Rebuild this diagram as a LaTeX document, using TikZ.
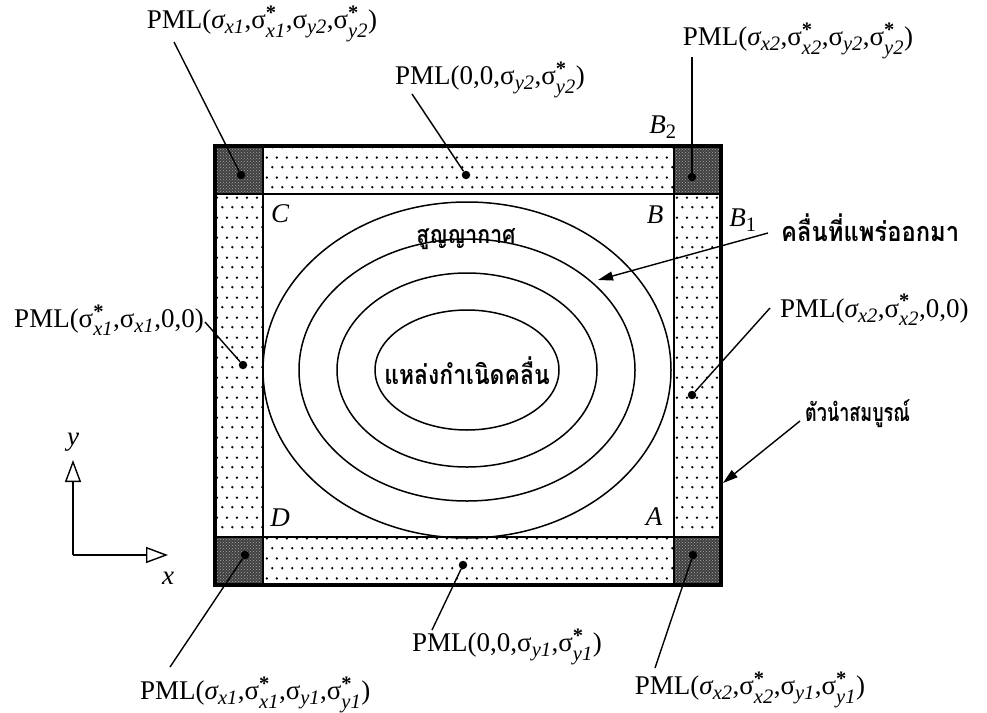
\documentclass[tikz,border=0pt]{standalone}
\usepackage{amsmath}
\usepackage{graphicx}
\usepackage{fontspec}
\setmainfont{Liberation Serif}
\newfontfamily\thaifont[Script=Thai]{Loma}
\DeclareMathSizes{27}{27}{20.5}{15}
\usetikzlibrary{arrows.meta,patterns,patterns.meta}
\tikzdeclarepattern{
  name=pmldots,
  type=uncolored,
  bounding box={(0pt,0pt) and (10pt,20pt)},
  tile size={(10pt,20pt)},
  code={
    \fill (2.5pt,5pt) circle (1.4pt);
    \fill (7.5pt,15pt) circle (1.4pt);
  }
}
\newcommand{\sgi}[1]{\ensuremath{\text{\itshape σ}_{\text{\itshape #1}}}}
\newcommand{\sgu}[1]{\ensuremath{\text{σ}_{\text{\itshape #1}}}}
\newcommand{\sgs}[1]{\ensuremath{\text{σ}^{\text{\bfseries *}}_{\text{\itshape #1}}}}
\newcommand{\thx}[3]{{\fontsize{#1}{#1}\selectfont\thaifont\bfseries\scalebox{#2}[1]{#3}}}
\begin{document}
\begin{tikzpicture}[x=1pt,y=-1pt,
  lbl/.style={inner sep=0pt, font=\fontsize{27}{31}\selectfont},
  thai/.style={inner sep=0pt},
  cornerlbl/.style={inner sep=0pt, font=\fontsize{27}{31}\selectfont\itshape},
  pmldot/.style={circle, fill=black, inner sep=0pt, minimum size=8.5pt},
  leader/.style={line width=1.4pt},
  strip/.style={pattern=pmldots, pattern color=black},
  cornertile/.style={fill=black!75},
  tileedge/.style={draw=black, line width=2pt},
  wave/.style={line width=1.5pt},
  axis/.style={line width=1.4pt, -{Triangle[open, length=22pt, width=16pt, line width=1.4pt]}},
  pointer/.style={line width=1.4pt, -{Triangle[length=15pt, width=9pt]}}]
\useasboundingbox (0,0) rectangle (987,712);
\fill[white] (0,0) rectangle (987,712);

% wavefronts
\draw[wave] (467,370) ellipse [x radius=204, y radius=168];
\draw[wave] (467,370) ellipse [x radius=168, y radius=131];
\draw[wave] (467,370) ellipse [x radius=130, y radius=97];
\draw[wave] (467,370) ellipse [x radius=92, y radius=60];

% PML strips
\path[strip] (263,146) rectangle (674,194);
\path[strip] (263,537) rectangle (674,585);
\path[strip] (215,194) rectangle (263,537);
\path[strip] (674,194) rectangle (721,537);
% corner tiles
\path[cornertile] (215,146) rectangle (263,194);
\path[cornertile] (674,146) rectangle (721,194);
\path[cornertile] (215,537) rectangle (263,585);
\path[cornertile] (674,537) rectangle (721,585);
\path[pattern=crosshatch dots, pattern color=black!35] (215,146) rectangle (263,194);
\path[pattern=crosshatch dots, pattern color=black!35] (674,146) rectangle (721,194);
\path[pattern=crosshatch dots, pattern color=black!35] (215,537) rectangle (263,585);
\path[pattern=crosshatch dots, pattern color=black!35] (674,537) rectangle (721,585);
% edges
\draw[tileedge] (263,146) -- (263,585);
\draw[tileedge] (674,146) -- (674,585);
\draw[tileedge] (215,194) -- (721,194);
\draw[tileedge] (215,537) -- (721,537);
\draw[line width=3.2pt] (215,146) rectangle (721,585);

% corner letters
\node[cornerlbl] (A) at (654,517) {A};
\node[cornerlbl] (B) at (655,215) {B};
\node[cornerlbl] (C) at (280,214) {C};
\node[cornerlbl] (D) at (280,518) {D};
\node[cornerlbl] (B1) at (743,220) {B\textsubscript{\upshape 1}};
\node[cornerlbl] (B2) at (663,127) {B\textsubscript{\upshape 2}};

% dots
\node[pmldot] (dTL) at (241,175) {};
\node[pmldot] (dT) at (466,175) {};
\node[pmldot] (dTR) at (692,177) {};
\node[pmldot] (dL) at (243,365) {};
\node[pmldot] (dR) at (692,395) {};
\node[pmldot] (dBL) at (245,555) {};
\node[pmldot] (dB) at (463,565) {};
\node[pmldot] (dBR) at (693,555) {};

% labels
\node[lbl] (lTL) at (262,24) {PML(\sgi{x1},\sgs{x1},\sgu{y2},\sgs{y2})};
\node[lbl] (lTR) at (798,41) {PML(\sgi{x2},\sgs{x2},\sgu{y2},\sgs{y2})};
\node[lbl] (lT) at (490,80) {PML(0,0,\sgu{y2},\sgs{y2})};
\node[lbl, anchor=east] (lL) at (204,320) {PML(\sgs{x1},\sgu{x1},0,0)};
\node[lbl, anchor=west] (lR) at (780,310) {PML(\sgi{x2},\sgs{x2},0,0)};
\node[lbl, anchor=west] (lBL) at (140,695) {PML(\sgi{x1},\sgs{x1},\sgu{y1},\sgs{y1})};
\node[lbl] (lB) at (507,647) {PML(0,0,\sgu{y1},\sgs{y1})};
\node[lbl] (lBR) at (750,690) {PML(\sgi{x2},\sgs{x2},\sgu{y1},\sgs{y1})};

\coordinate (aTL) at (174,42);
\coordinate (aTR) at (692,57);
\coordinate (aT) at (412,94);
\coordinate (aL) at (205,322);
\coordinate (aR) at (770,308);
\coordinate (aBL) at (170,667);
\coordinate (aB) at (432,630);
\coordinate (aBR) at (655,668);
\draw[leader] (aTL) -- (dTL);
\draw[leader] (aTR) -- (dTR);
\draw[leader] (aT) -- (dT);
\draw[leader] (aL) -- (dL);
\draw[leader] (aR) -- (dR);
\draw[leader] (aBL) -- (dBL);
\draw[leader] (aB) -- (dB);
\draw[leader] (aBR) -- (dBR);

% Thai labels
\node[thai] (vac) at (466,239) {\thx{25}{0.85}{สูญญากาศ}};
\node[thai] (src) at (467,371) {\thx{27}{0.85}{แหล่งกำเนิดคลื่น}};
\node[thai, anchor=west] (wave) at (781,228) {\thx{27}{0.88}{คลื่นที่แพร่ออกมา}};
\node[thai, anchor=west] (pec) at (805,414) {\thx{25}{0.72}{ตัวนำสมบูรณ์}};
\coordinate (wA) at (768,233);
\coordinate (wB) at (598,280);
\coordinate (pA) at (800,421);
\coordinate (pB) at (723,483);
\draw[pointer] (wA) -- (wB);
\draw[pointer] (pA) -- (pB);

% axes
\coordinate (O) at (73,555);
\coordinate (Yt) at (73,460);
\coordinate (Xt) at (168,555);
\draw[axis] (O) -- (Yt);
\draw[axis] (O) -- (Xt);
\node[cornerlbl] (ylab) at (73,442) {y};
\node[cornerlbl] (xlab) at (168,578) {x};
\end{tikzpicture}
\end{document}
